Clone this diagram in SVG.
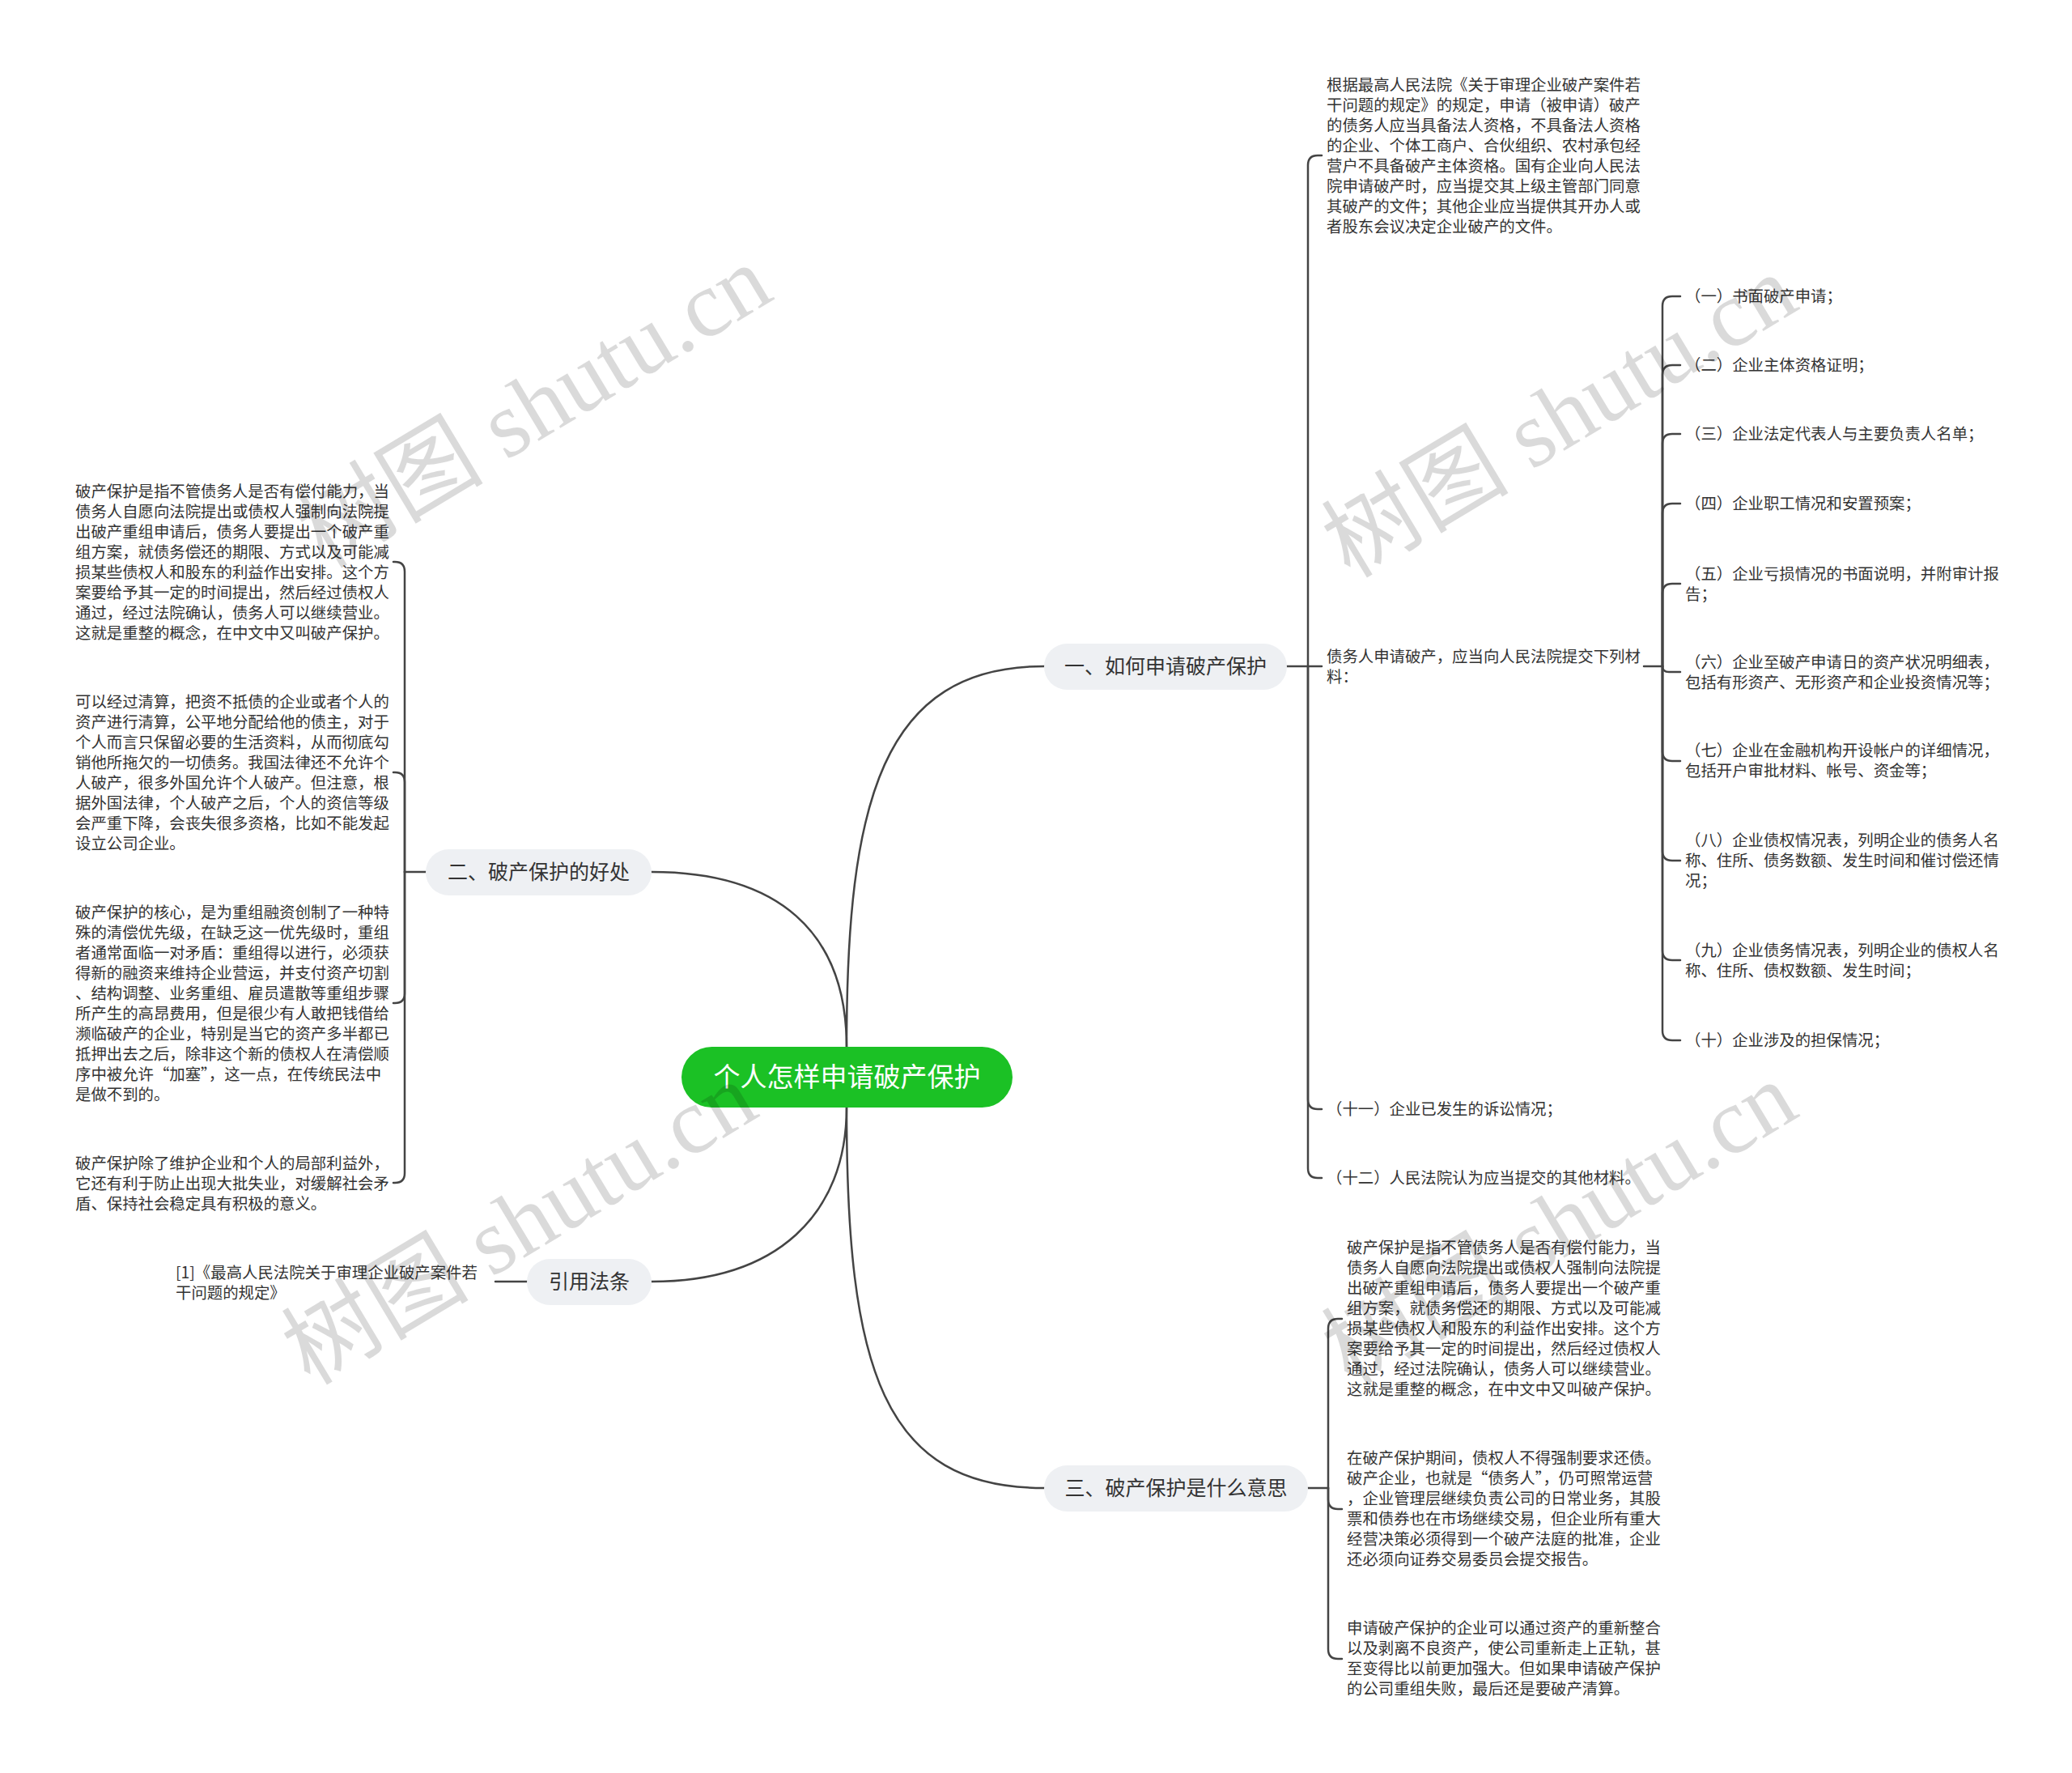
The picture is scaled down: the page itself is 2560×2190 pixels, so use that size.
<svg xmlns="http://www.w3.org/2000/svg" width="2560" height="2190" viewBox="0 0 2560 2190">
<style>
.t{font-family:"Noto Sans CJK SC","Noto Sans",sans-serif;font-size:19.4px;fill:#333}
.b{font-family:"Noto Sans CJK SC","Noto Sans",sans-serif;font-size:25px;fill:#333;text-anchor:middle}
.c{font-family:"Noto Sans CJK SC","Noto Sans",sans-serif;font-size:33px;fill:#fff;text-anchor:middle}
.bn{fill:#eef0f3}
.lk{fill:none;stroke:#444;stroke-width:2.5;stroke-linecap:round}
.wm{font-family:"Liberation Serif","Noto Sans CJK SC",serif;font-size:116px;fill:#000;opacity:0.14;text-anchor:middle}
</style>
<rect width="2560" height="2190" fill="#fff"/>
<g id="connectors">
<path class="lk" d="M1046 1293 C1046 990 1090 823 1290 823"/>
<path class="lk" d="M1046 1293 C1046 1150 960 1077 805 1077"/>
<path class="lk" d="M1046 1368 C1046 1500 960 1583 805 1583"/>
<path class="lk" d="M1046 1368 C1046 1690 1090 1838 1290 1838"/>
<path class="lk" d="M1590 823 L1633 823"/>
<path class="lk" d="M1616 823 L1616 204 Q1616 192 1628 192 L1633 192"/>
<path class="lk" d="M1616 823 L1616 1358 Q1616 1370 1628 1370 L1633 1370"/>
<path class="lk" d="M1616 823 L1616 1443 Q1616 1455 1628 1455 L1633 1455"/>
<path class="lk" d="M2031 823 L2054 823"/>
<path class="lk" d="M2054 823 L2054 378 Q2054 366 2066 366 L2076 366"/>
<path class="lk" d="M2054 823 L2054 463 Q2054 451 2066 451 L2076 451"/>
<path class="lk" d="M2054 823 L2054 548 Q2054 536 2066 536 L2076 536"/>
<path class="lk" d="M2054 823 L2054 634 Q2054 622 2066 622 L2076 622"/>
<path class="lk" d="M2054 823 L2054 733 Q2054 721 2066 721 L2076 721"/>
<path class="lk" d="M2054 823 Q2054 830 2062 830 L2076 830"/>
<path class="lk" d="M2054 823 L2054 928 Q2054 940 2066 940 L2076 940"/>
<path class="lk" d="M2054 823 L2054 1051 Q2054 1063 2066 1063 L2076 1063"/>
<path class="lk" d="M2054 823 L2054 1174 Q2054 1186 2066 1186 L2076 1186"/>
<path class="lk" d="M2054 823 L2054 1273 Q2054 1285 2066 1285 L2076 1285"/>
<path class="lk" d="M526 1077 L500 1077"/>
<path class="lk" d="M500 1077 L500 706 Q500 694 488 694 L486 694"/>
<path class="lk" d="M500 1077 L500 966 Q500 954 488 954 L486 954"/>
<path class="lk" d="M500 1077 L500 1227 Q500 1239 488 1239 L486 1239"/>
<path class="lk" d="M500 1077 L500 1449 Q500 1461 488 1461 L486 1461"/>
<path class="lk" d="M651 1583 L612 1583"/>
<path class="lk" d="M1616 1838 L1641 1838"/>
<path class="lk" d="M1641 1838 L1641 1641 Q1641 1629 1653 1629 L1658 1629"/>
<path class="lk" d="M1641 1838 L1641 1852 Q1641 1864 1653 1864 L1658 1864"/>
<path class="lk" d="M1641 1838 L1641 2037 Q1641 2049 1653 2049 L1658 2049"/>
</g>
<g id="root">
<rect x="842" y="1293" width="409" height="75" rx="37.5" fill="#1bc125"/>
<text class="c" x="1046.5" y="1342">个人怎样申请破产保护</text>
</g>
<g id="b1">
<rect class="bn" x="1290" y="795" width="300" height="57" rx="28.5"/>
<text class="b" x="1440" y="832">一、如何申请破产保护</text>
</g>
<g id="b2">
<rect class="bn" x="526" y="1049" width="279" height="57" rx="28.5"/>
<text class="b" x="665.5" y="1086">二、破产保护的好处</text>
</g>
<g id="b3">
<rect class="bn" x="651" y="1555" width="154" height="57" rx="28.5"/>
<text class="b" x="728" y="1592">引用法条</text>
</g>
<g id="b4">
<rect class="bn" x="1290" y="1810" width="326" height="57" rx="28.5"/>
<text class="b" x="1453" y="1847">三、破产保护是什么意思</text>
</g>
<g id="b1-p1">
<text class="t"><tspan x="1639" y="112">根据最高人民法院《关于审理企业破产案件若</tspan><tspan x="1639" y="137">干问题的规定》的规定，申请（被申请）破产</tspan><tspan x="1639" y="162">的债务人应当具备法人资格，不具备法人资格</tspan><tspan x="1639" y="187">的企业、个体工商户、合伙组织、农村承包经</tspan><tspan x="1639" y="212">营户不具备破产主体资格。国有企业向人民法</tspan><tspan x="1639" y="237">院申请破产时，应当提交其上级主管部门同意</tspan><tspan x="1639" y="262">其破产的文件；其他企业应当提供其开办人或</tspan><tspan x="1639" y="287">者股东会议决定企业破产的文件。</tspan></text>
</g>
<g id="b1-p2">
<text class="t"><tspan x="1639" y="818">债务人申请破产，应当向人民法院提交下列材</tspan><tspan x="1639" y="843">料：</tspan></text>
</g>
<g id="b1-p3"><text class="t" x="1639" y="1377">（十一）企业已发生的诉讼情况；</text></g>
<g id="b1-p4"><text class="t" x="1639" y="1462">（十二）人民法院认为应当提交的其他材料。</text></g>
<g id="s1"><text class="t" x="2082" y="373">（一）书面破产申请；</text></g>
<g id="s2"><text class="t" x="2082" y="458">（二）企业主体资格证明；</text></g>
<g id="s3"><text class="t" x="2082" y="543">（三）企业法定代表人与主要负责人名单；</text></g>
<g id="s4"><text class="t" x="2082" y="629">（四）企业职工情况和安置预案；</text></g>
<g id="s5"><text class="t"><tspan x="2082" y="716">（五）企业亏损情况的书面说明，并附审计报</tspan><tspan x="2082" y="741">告；</tspan></text></g>
<g id="s6"><text class="t"><tspan x="2082" y="825">（六）企业至破产申请日的资产状况明细表，</tspan><tspan x="2082" y="850">包括有形资产、无形资产和企业投资情况等；</tspan></text></g>
<g id="s7"><text class="t"><tspan x="2082" y="934">（七）企业在金融机构开设帐户的详细情况，</tspan><tspan x="2082" y="959">包括开户审批材料、帐号、资金等；</tspan></text></g>
<g id="s8"><text class="t"><tspan x="2082" y="1045">（八）企业债权情况表，列明企业的债务人名</tspan><tspan x="2082" y="1070">称、住所、债务数额、发生时间和催讨偿还情</tspan><tspan x="2082" y="1095">况；</tspan></text></g>
<g id="s9"><text class="t"><tspan x="2082" y="1181">（九）企业债务情况表，列明企业的债权人名</tspan><tspan x="2082" y="1206">称、住所、债权数额、发生时间；</tspan></text></g>
<g id="s10"><text class="t" x="2082" y="1292">（十）企业涉及的担保情况；</text></g>
<g id="b2-pA">
<text class="t"><tspan x="93" y="614">破产保护是指不管债务人是否有偿付能力，当</tspan><tspan x="93" y="639">债务人自愿向法院提出或债权人强制向法院提</tspan><tspan x="93" y="664">出破产重组申请后，债务人要提出一个破产重</tspan><tspan x="93" y="689">组方案，就债务偿还的期限、方式以及可能减</tspan><tspan x="93" y="714">损某些债权人和股东的利益作出安排。这个方</tspan><tspan x="93" y="739">案要给予其一定的时间提出，然后经过债权人</tspan><tspan x="93" y="764">通过，经过法院确认，债务人可以继续营业。</tspan><tspan x="93" y="789">这就是重整的概念，在中文中又叫破产保护。</tspan></text>
</g>
<g id="b2-pB">
<text class="t"><tspan x="93" y="874">可以经过清算，把资不抵债的企业或者个人的</tspan><tspan x="93" y="899">资产进行清算，公平地分配给他的债主，对于</tspan><tspan x="93" y="924">个人而言只保留必要的生活资料，从而彻底勾</tspan><tspan x="93" y="949">销他所拖欠的一切债务。我国法律还不允许个</tspan><tspan x="93" y="974">人破产，很多外国允许个人破产。但注意，根</tspan><tspan x="93" y="999">据外国法律，个人破产之后，个人的资信等级</tspan><tspan x="93" y="1024">会严重下降，会丧失很多资格，比如不能发起</tspan><tspan x="93" y="1049">设立公司企业。</tspan></text>
</g>
<g id="b2-pC">
<text class="t"><tspan x="93" y="1134">破产保护的核心，是为重组融资创制了一种特</tspan><tspan x="93" y="1159">殊的清偿优先级，在缺乏这一优先级时，重组</tspan><tspan x="93" y="1184">者通常面临一对矛盾：重组得以进行，必须获</tspan><tspan x="93" y="1209">得新的融资来维持企业营运，并支付资产切割</tspan><tspan x="93" y="1234">、结构调整、业务重组、雇员遣散等重组步骤</tspan><tspan x="93" y="1259">所产生的高昂费用，但是很少有人敢把钱借给</tspan><tspan x="93" y="1284">濒临破产的企业，特别是当它的资产多半都已</tspan><tspan x="93" y="1309">抵押出去之后，除非这个新的债权人在清偿顺</tspan><tspan x="93" y="1334">序中被允许“加塞”，这一点，在传统民法中</tspan><tspan x="93" y="1359">是做不到的。</tspan></text>
</g>
<g id="b2-pD">
<text class="t"><tspan x="93" y="1444">破产保护除了维护企业和个人的局部利益外，</tspan><tspan x="93" y="1469">它还有利于防止出现大批失业，对缓解社会矛</tspan><tspan x="93" y="1494">盾、保持社会稳定具有积极的意义。</tspan></text>
</g>
<g id="b3-p1">
<text class="t"><tspan x="217" y="1579">[1]《最高人民法院关于审理企业破产案件若</tspan><tspan x="217" y="1604">干问题的规定》</tspan></text>
</g>
<g id="b4-pE">
<text class="t"><tspan x="1664" y="1548">破产保护是指不管债务人是否有偿付能力，当</tspan><tspan x="1664" y="1573">债务人自愿向法院提出或债权人强制向法院提</tspan><tspan x="1664" y="1598">出破产重组申请后，债务人要提出一个破产重</tspan><tspan x="1664" y="1623">组方案，就债务偿还的期限、方式以及可能减</tspan><tspan x="1664" y="1648">损某些债权人和股东的利益作出安排。这个方</tspan><tspan x="1664" y="1673">案要给予其一定的时间提出，然后经过债权人</tspan><tspan x="1664" y="1698">通过，经过法院确认，债务人可以继续营业。</tspan><tspan x="1664" y="1723">这就是重整的概念，在中文中又叫破产保护。</tspan></text>
</g>
<g id="b4-pF">
<text class="t"><tspan x="1664" y="1808">在破产保护期间，债权人不得强制要求还债。</tspan><tspan x="1664" y="1833">破产企业，也就是“债务人”，仍可照常运营</tspan><tspan x="1664" y="1858">，企业管理层继续负责公司的日常业务，其股</tspan><tspan x="1664" y="1883">票和债券也在市场继续交易，但企业所有重大</tspan><tspan x="1664" y="1908">经营决策必须得到一个破产法庭的批准，企业</tspan><tspan x="1664" y="1933">还必须向证券交易委员会提交报告。</tspan></text>
</g>
<g id="b4-pG">
<text class="t"><tspan x="1664" y="2018">申请破产保护的企业可以通过资产的重新整合</tspan><tspan x="1664" y="2043">以及剥离不良资产，使公司重新走上正轨，甚</tspan><tspan x="1664" y="2068">至变得比以前更加强大。但如果申请破产保护</tspan><tspan x="1664" y="2093">的公司重组失败，最后还是要破产清算。</tspan></text>
</g>
<g id="watermarks">
<text class="wm" transform="translate(680 536) rotate(-31)">树图 shutu.cn</text>
<text class="wm" transform="translate(1947 548) rotate(-31)">树图 shutu.cn</text>
<text class="wm" transform="translate(662 1545) rotate(-31)">树图 shutu.cn</text>
<text class="wm" transform="translate(1947 1545) rotate(-31)">树图 shutu.cn</text>
</g>
</svg>
